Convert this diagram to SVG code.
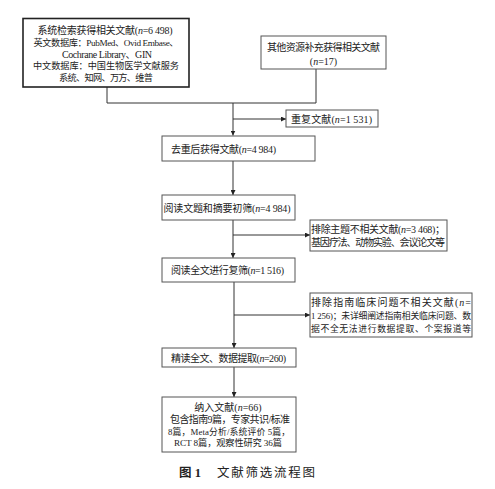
<svg xmlns="http://www.w3.org/2000/svg" width="495" height="489" viewBox="0 0 495 489">
<defs>
<style>
.box{fill:#fff;stroke:#555;stroke-width:1}
.t{font-family:"Liberation Serif","Noto Sans CJK SC",serif;font-size:10px;fill:#222}
.s{font-size:9.2px}
.x{font-size:8.8px}
.c{text-anchor:middle}
.ln{fill:none;stroke:#333;stroke-width:1}
.cap{font-family:"Liberation Serif","Noto Sans CJK SC",serif;font-size:12.5px;fill:#222}
</style>
<marker id="arr" viewBox="0 0 8 8" refX="8" refY="4" markerWidth="5" markerHeight="5" orient="auto" markerUnits="userSpaceOnUse">
<path d="M0,0 L8,4 L0,8 z" fill="#222"/>
</marker>
</defs>
<rect width="495" height="489" fill="#fff"/>
<g id="connectors">
<path class="ln" d="M107,87 V103 H316 V69"/>
<path class="ln" d="M233,103 V135.5" marker-end="url(#arr)"/>
<path class="ln" d="M233,119 H286" marker-end="url(#arr)"/>
<path class="ln" d="M233,161 V195" marker-end="url(#arr)"/>
<path class="ln" d="M233,220 V258" marker-end="url(#arr)"/>
<path class="ln" d="M233,235 H310" marker-end="url(#arr)"/>
<path class="ln" d="M234,282 V348" marker-end="url(#arr)"/>
<path class="ln" d="M234,315 H310" marker-end="url(#arr)"/>
<path class="ln" d="M234,367 V397" marker-end="url(#arr)"/>
</g>
<g id="n1">
<rect x="23" y="18.5" width="166" height="68.5" fill="#fff" stroke="#222" stroke-width="1.6"/>
<text class="t" x="105" y="34" text-anchor="middle" textLength="135" lengthAdjust="spacing">系统检索获得相关文献(<tspan font-style="italic">n</tspan>=6 498)</text>
<text class="t s" x="106" y="46" text-anchor="middle" textLength="145" lengthAdjust="spacing">英文数据库：PubMed、Ovid Embase、</text>
<text class="t" x="107" y="57.5" text-anchor="middle" textLength="90" lengthAdjust="spacing">Cochrane Library、GIN</text>
<text class="t s" x="106" y="69" text-anchor="middle" textLength="146" lengthAdjust="spacing">中文数据库：中国生物医学文献服务</text>
<text class="t s" x="106" y="80.5" text-anchor="middle" textLength="94" lengthAdjust="spacing">系统、知网、万方、维普</text>
</g>
<g id="n2">
<rect class="box" x="261" y="36" width="125" height="33"/>
<text class="t" x="323.5" y="51" text-anchor="middle" textLength="113" lengthAdjust="spacing">其他资源补充获得相关文献</text>
<text class="t c" x="323.5" y="65">(<tspan font-style="italic">n</tspan>=17)</text>
</g>
<g id="n3">
<rect class="box" x="286" y="110" width="92" height="17"/>
<text class="t" x="291" y="122.5" textLength="81" lengthAdjust="spacing">重复文献(<tspan font-style="italic">n</tspan>=1 531)</text>
</g>
<g id="n4">
<rect class="box" x="162" y="136" width="153" height="25"/>
<text class="t" x="171" y="152.5" textLength="105" lengthAdjust="spacing">去重后获得文献(<tspan font-style="italic">n</tspan>=4 984)</text>
</g>
<g id="n5">
<rect class="box" x="162" y="195" width="133" height="25"/>
<text class="t" x="163.5" y="211.5" textLength="127" lengthAdjust="spacing">阅读文题和摘要初筛(<tspan font-style="italic">n</tspan>=4 984)</text>
</g>
<g id="n6">
<rect class="box" x="310" y="220" width="137" height="31"/>
<text class="t" x="311" y="233" textLength="134" lengthAdjust="spacing">排除主题不相关文献(<tspan font-style="italic">n</tspan>=3 468)；</text>
<text class="t" x="311" y="246" textLength="134" lengthAdjust="spacing">基因疗法、动物实验、会议论文等</text>
</g>
<g id="n7">
<rect class="box" x="162" y="258" width="133" height="24"/>
<text class="t" x="171" y="274" textLength="113" lengthAdjust="spacing">阅读全文进行复筛(<tspan font-style="italic">n</tspan>=1 516)</text>
</g>
<g id="n8">
<rect class="box" x="310" y="293" width="162" height="44"/>
<text class="t" x="311" y="306" textLength="160" lengthAdjust="spacing">排除指南临床问题不相关文献(<tspan font-style="italic">n</tspan>=</text>
<text class="t x" x="311" y="319" textLength="160" lengthAdjust="spacing">1 256)；未详细阐述指南相关临床问题、数</text>
<text class="t x" x="311" y="332" textLength="160" lengthAdjust="spacing">据不全无法进行数据提取、个案报道等</text>
</g>
<g id="n9">
<rect class="box" x="162" y="348" width="134" height="19"/>
<text class="t" x="171" y="361.5" textLength="115" lengthAdjust="spacing">精读全文、数据提取(<tspan font-style="italic">n</tspan>=260)</text>
</g>
<g id="n10">
<rect class="box" x="162" y="397" width="134" height="55"/>
<text class="t c" x="228" y="411">纳入文献(<tspan font-style="italic">n</tspan>=66)</text>
<text class="t" x="170" y="423" textLength="120" lengthAdjust="spacing">包含指南9篇，专家共识/标准</text>
<text class="t x" x="168" y="434.5" textLength="122" lengthAdjust="spacing">8篇，Meta分析/系统评价 5篇，</text>
<text class="t s" x="174" y="446" textLength="108" lengthAdjust="spacing">RCT 8篇，观察性研究 36篇</text>
</g>
<g id="caption">
<text class="cap" x="179" y="477" font-weight="bold">图 1</text>
<text class="cap" x="217" y="477" textLength="98" lengthAdjust="spacing">文献筛选流程图</text>
</g>
</svg>
